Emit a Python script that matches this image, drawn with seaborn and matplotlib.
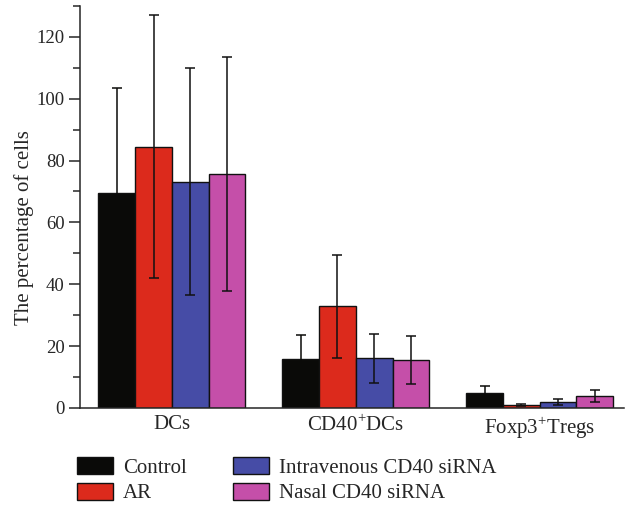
import numpy as np
import pandas as pd
import matplotlib
matplotlib.use("Agg")
import matplotlib.pyplot as plt
from matplotlib.ticker import MultipleLocator
import seaborn as sns

# Cell populations on the x axis
cell_types = ["DCs", "CD40$^{\\mathregular{+}}$DCs", "Foxp3$^{\\mathregular{+}}$Tregs"]
# Treatment groups
groups = ["Control", "AR", "Intravenous CD40 siRNA", "Nasal CD40 siRNA"]

# Mean percentage of cells per group (one value per cell type)
control_mean = [69.4, 15.8, 4.7]
ar_mean = [84.4, 32.9, 0.85]
iv_mean = [73.2, 16.0, 1.9]
nasal_mean = [75.6, 15.4, 3.8]

# Standard deviations
control_sd = [34.0, 7.7, 2.3]
ar_sd = [42.5, 16.6, 0.3]
iv_sd = [36.7, 8.0, 0.9]
nasal_sd = [37.9, 7.8, 2.0]

colors = ["#0a0a08", "#dc2a1c", "#464ca6", "#c54fa9"]

means = [control_mean, ar_mean, iv_mean, nasal_mean]
sds = [control_sd, ar_sd, iv_sd, nasal_sd]

rows = []
for g, m_list, s_list in zip(groups, means, sds):
    for c, m, s in zip(cell_types, m_list, s_list):
        rows.append({"cell": c, "group": g, "mean": m, "sd": s})
df = pd.DataFrame(rows)

sns.set_style("ticks")
plt.rcParams["font.family"] = ["Liberation Serif", "DejaVu Serif"]
plt.rcParams["mathtext.fontset"] = "custom"
plt.rcParams["mathtext.rm"] = "Liberation Serif"

fig = plt.figure(figsize=(6.25, 5.11), dpi=100)
ax = fig.add_axes([0.128, 0.2016, 0.870, 0.787])

sns.barplot(
    data=df, x="cell", y="mean", hue="group",
    order=cell_types, hue_order=groups, palette=colors,
    errorbar=None, width=0.8, saturation=1,
    edgecolor="#111111", linewidth=1.0, ax=ax,
)

# Error bars on top of each bar, using the bar geometry from seaborn
for container, g, col in zip(ax.containers, groups, colors):
    sub = df[df["group"] == g].set_index("cell").loc[cell_types]
    xs = [p.get_x() + p.get_width() / 2 for p in container.patches]
    ys = [p.get_height() for p in container.patches]
    ecol = col if g == "Control" else "#111111"
    ax.errorbar(xs, ys, yerr=sub["sd"].values, fmt="none",
                ecolor=ecol, elinewidth=1.1, capsize=3.5,
                capthick=1.1, zorder=5)

ax.set_ylim(0, 130)
ax.set_xlim(-0.5, 2.457)
ax.yaxis.set_major_locator(MultipleLocator(20))
ax.yaxis.set_minor_locator(MultipleLocator(10))
ax.tick_params(axis="y", which="major", length=8, width=1.1, labelsize=13.5, pad=3)
ax.tick_params(axis="y", which="minor", length=5, width=1.1)
ax.tick_params(axis="x", length=0, labelsize=15, pad=5)
ax.set_xlabel("")
ax.set_ylabel("The percentage of cells", fontsize=15)
ax.yaxis.set_label_coords(-0.085, 0.449)
sns.despine(ax=ax)
for s in ("left", "bottom"):
    ax.spines[s].set_linewidth(1.1)

handles, labels = ax.get_legend_handles_labels()
if ax.get_legend() is not None:
    ax.get_legend().remove()
fig.legend(handles, labels, loc="upper left", bbox_to_anchor=(0.110, 0.122),
           ncol=2, frameon=False, fontsize=15, handlelength=1.73,
           handleheight=0.87, columnspacing=2.2, labelspacing=0.25,
           handletextpad=0.48, borderaxespad=0)

fig.savefig("out.png", dpi=100)
